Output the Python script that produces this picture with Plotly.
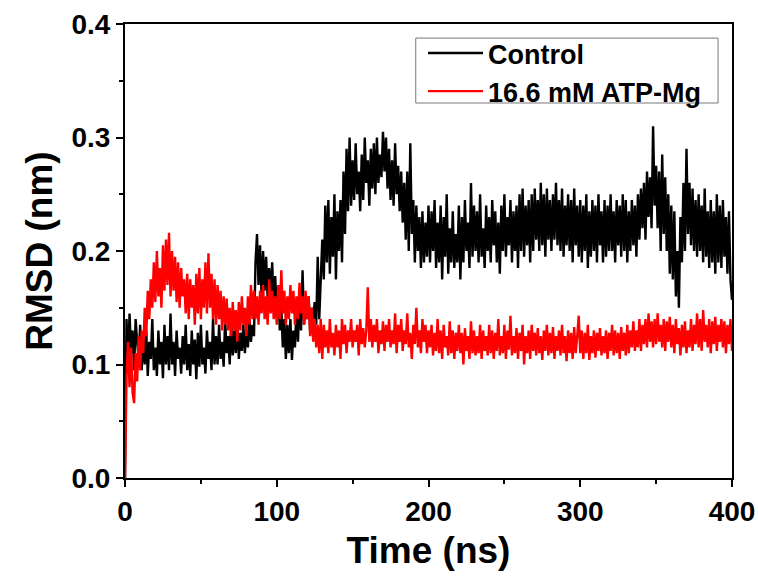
import plotly.graph_objects as go

time_ns = list(range(0, 401))

control = [
    0.0,
    0.14, 0.10, 0.145, 0.11, 0.13, 0.095, 0.14, 0.12, 0.105,
    0.135, 0.095, 0.125, 0.10, 0.13, 0.09, 0.12, 0.105, 0.14, 0.095,
    0.115, 0.09, 0.13, 0.10, 0.12, 0.088, 0.135, 0.10, 0.125, 0.095, 0.145, 0.10, 0.12, 0.09, 0.13, 0.105, 0.115, 0.092, 0.125, 0.10,
    0.135, 0.095, 0.118, 0.09, 0.13, 0.10, 0.122, 0.087, 0.128, 0.098, 0.135, 0.10, 0.115, 0.092, 0.13, 0.105, 0.12, 0.095, 0.14, 0.10,
    0.125, 0.10, 0.135, 0.105, 0.12, 0.098, 0.14, 0.11, 0.125, 0.10, 0.138, 0.108, 0.13, 0.11, 0.14, 0.105, 0.128, 0.112, 0.135, 0.11,
    0.13, 0.115, 0.14, 0.12, 0.135, 0.125, 0.19, 0.215, 0.17, 0.205, 0.16, 0.2, 0.165, 0.195, 0.158, 0.185, 0.16, 0.19, 0.15, 0.178,
    0.145, 0.17, 0.13, 0.15, 0.115, 0.14, 0.105, 0.135, 0.11, 0.14, 0.104, 0.13, 0.115, 0.15, 0.12, 0.16, 0.13, 0.183, 0.135, 0.155,
    0.14, 0.16, 0.13, 0.15, 0.14, 0.155, 0.135, 0.195, 0.14, 0.17, 0.21, 0.175, 0.24, 0.19, 0.245, 0.18, 0.23, 0.195, 0.25, 0.175,
    0.235, 0.2, 0.245, 0.19, 0.27, 0.215, 0.29, 0.235, 0.3, 0.24, 0.28, 0.245, 0.295, 0.25, 0.27, 0.235, 0.285, 0.245, 0.3, 0.26,
    0.28, 0.24, 0.29, 0.255, 0.295, 0.25, 0.3, 0.26, 0.285, 0.265, 0.305, 0.27, 0.3, 0.255, 0.29, 0.245, 0.28, 0.24, 0.295, 0.25,
    0.275, 0.235, 0.27, 0.225, 0.26, 0.21, 0.27, 0.2, 0.295, 0.215, 0.245, 0.19, 0.24, 0.2, 0.23, 0.185, 0.235, 0.19, 0.225, 0.195,
    0.24, 0.19, 0.235, 0.2, 0.245, 0.185, 0.225, 0.19, 0.24, 0.175, 0.23, 0.195, 0.25, 0.18, 0.22, 0.19, 0.235, 0.185, 0.215, 0.19,
    0.24, 0.175, 0.23, 0.19, 0.245, 0.2, 0.225, 0.185, 0.26, 0.195, 0.24, 0.2, 0.235, 0.19, 0.25, 0.195, 0.22, 0.185, 0.24, 0.2,
    0.23, 0.19, 0.245, 0.205, 0.235, 0.19, 0.225, 0.18, 0.24, 0.2, 0.25, 0.195, 0.23, 0.205, 0.245, 0.19, 0.235, 0.2, 0.24, 0.185,
    0.25, 0.2, 0.255, 0.195, 0.24, 0.205, 0.245, 0.19, 0.25, 0.2, 0.255, 0.21, 0.245, 0.2, 0.26, 0.205, 0.25, 0.195, 0.255, 0.21,
    0.245, 0.2, 0.25, 0.21, 0.26, 0.205, 0.245, 0.2, 0.255, 0.195, 0.24, 0.205, 0.25, 0.2, 0.245, 0.19, 0.255, 0.205, 0.24, 0.195,
    0.245, 0.19, 0.24, 0.2, 0.25, 0.185, 0.235, 0.195, 0.245, 0.2, 0.24, 0.19, 0.25, 0.205, 0.235, 0.19, 0.245, 0.195, 0.24, 0.2,
    0.25, 0.2, 0.235, 0.19, 0.245, 0.205, 0.24, 0.195, 0.25, 0.2, 0.245, 0.19, 0.235, 0.2, 0.245, 0.205, 0.24, 0.195, 0.25, 0.21,
    0.255, 0.22, 0.26, 0.21, 0.27, 0.23, 0.265, 0.22, 0.31, 0.24, 0.275, 0.22, 0.27, 0.2, 0.285, 0.215, 0.265, 0.2, 0.25, 0.18,
    0.24, 0.175, 0.235, 0.16, 0.2, 0.15, 0.23, 0.19, 0.26, 0.2, 0.29, 0.215, 0.26, 0.205, 0.255, 0.2, 0.245, 0.195, 0.25, 0.2,
    0.24, 0.19, 0.255, 0.195, 0.235, 0.185, 0.245, 0.19, 0.235, 0.18, 0.25, 0.19, 0.24, 0.185, 0.245, 0.195, 0.23, 0.18, 0.235, 0.175,
    0.157,
]

atp_mg = [
    0.0,
    0.09, 0.12, 0.08, 0.115, 0.075, 0.066, 0.11, 0.085, 0.125,
    0.095, 0.13, 0.11, 0.15, 0.125, 0.165, 0.14, 0.175, 0.15, 0.19,
    0.155, 0.2, 0.16, 0.185, 0.15, 0.205, 0.165, 0.21, 0.17, 0.216, 0.16, 0.2, 0.165, 0.195, 0.155, 0.19, 0.15, 0.185, 0.16, 0.175,
    0.145, 0.18, 0.14, 0.175, 0.15, 0.17, 0.135, 0.18, 0.145, 0.185, 0.14, 0.175, 0.15, 0.19, 0.145, 0.198, 0.15, 0.18, 0.14, 0.175,
    0.135, 0.17, 0.14, 0.165, 0.13, 0.16, 0.135, 0.158, 0.13, 0.15, 0.125, 0.155, 0.13, 0.148, 0.12, 0.155, 0.13, 0.16, 0.135, 0.15,
    0.125, 0.16, 0.135, 0.17, 0.14, 0.165, 0.14, 0.16, 0.135, 0.165, 0.145, 0.17, 0.14, 0.16, 0.135, 0.175, 0.145, 0.165, 0.14, 0.16,
    0.135, 0.17, 0.14, 0.183, 0.145, 0.165, 0.135, 0.16, 0.14, 0.17, 0.145, 0.165, 0.135, 0.16, 0.14, 0.172, 0.145, 0.16, 0.135, 0.165,
    0.14, 0.16, 0.125, 0.15, 0.12, 0.14, 0.115, 0.135, 0.11, 0.14, 0.105, 0.135, 0.115, 0.13, 0.11, 0.14, 0.115, 0.128, 0.108, 0.135,
    0.115, 0.13, 0.105, 0.14, 0.118, 0.135, 0.11, 0.13, 0.12, 0.14, 0.115, 0.13, 0.12, 0.135, 0.108, 0.14, 0.118, 0.132, 0.115, 0.13,
    0.168, 0.12, 0.14, 0.115, 0.135, 0.12, 0.14, 0.11, 0.13, 0.118, 0.138, 0.112, 0.135, 0.12, 0.14, 0.115, 0.13, 0.118, 0.145, 0.11,
    0.135, 0.12, 0.14, 0.112, 0.13, 0.118, 0.145, 0.115, 0.128, 0.105, 0.135, 0.118, 0.15, 0.115, 0.13, 0.11, 0.14, 0.12, 0.135, 0.11,
    0.13, 0.115, 0.135, 0.108, 0.128, 0.112, 0.14, 0.11, 0.13, 0.105, 0.135, 0.115, 0.125, 0.108, 0.138, 0.11, 0.13, 0.105, 0.128, 0.112,
    0.135, 0.11, 0.128, 0.1, 0.132, 0.112, 0.125, 0.105, 0.138, 0.11, 0.13, 0.108, 0.125, 0.11, 0.135, 0.105, 0.13, 0.112, 0.125, 0.108,
    0.135, 0.11, 0.13, 0.105, 0.128, 0.112, 0.14, 0.108, 0.125, 0.11, 0.135, 0.105, 0.13, 0.113, 0.143, 0.108, 0.125, 0.11, 0.132, 0.105,
    0.128, 0.112, 0.135, 0.1, 0.125, 0.11, 0.13, 0.105, 0.135, 0.112, 0.128, 0.108, 0.132, 0.11, 0.125, 0.104, 0.13, 0.112, 0.135, 0.108,
    0.128, 0.11, 0.133, 0.105, 0.125, 0.112, 0.13, 0.108, 0.135, 0.11, 0.125, 0.103, 0.13, 0.11, 0.128, 0.105, 0.133, 0.11, 0.125, 0.143,
    0.11, 0.13, 0.105, 0.128, 0.11, 0.135, 0.104, 0.125, 0.11, 0.13, 0.106, 0.128, 0.112, 0.132, 0.108, 0.125, 0.11, 0.13, 0.105, 0.128,
    0.112, 0.135, 0.108, 0.13, 0.11, 0.128, 0.105, 0.133, 0.112, 0.128, 0.108, 0.135, 0.11, 0.13, 0.115, 0.138, 0.112, 0.13, 0.115, 0.14,
    0.112, 0.135, 0.118, 0.14, 0.115, 0.145, 0.12, 0.138, 0.115, 0.14, 0.118, 0.145, 0.12, 0.135, 0.115, 0.14, 0.112, 0.138, 0.12, 0.142,
    0.115, 0.135, 0.11, 0.14, 0.118, 0.132, 0.108, 0.135, 0.115, 0.138, 0.11, 0.13, 0.115, 0.14, 0.112, 0.135, 0.118, 0.145, 0.115, 0.14,
    0.112, 0.148, 0.12, 0.135, 0.115, 0.14, 0.11, 0.138, 0.118, 0.142, 0.112, 0.135, 0.12, 0.14, 0.115, 0.138, 0.11, 0.135, 0.118, 0.14,
    0.112,
]

series_names = ["Control", "16.6 mM ATP-Mg"]
series_colors = ["#000000", "#ff0000"]

FONT = "Liberation Sans, Arial, sans-serif"

fig = go.Figure()
for name, vals, col in zip(series_names, [control, atp_mg], series_colors):
    fig.add_trace(go.Scatter(x=time_ns, y=vals, mode="lines", name=name,
                             line=dict(color=col, width=2.4)))

axis_common = dict(
    showline=True, linecolor="black", linewidth=2, mirror=True,
    ticks="outside", ticklen=7, tickwidth=2, tickcolor="black",
    showgrid=False, zeroline=False, automargin=False,
    tickfont=dict(family=FONT, size=28, color="black", weight="bold"),
)

fig.update_xaxes(range=[0, 400], dtick=100, tick0=0,
                 minor=dict(ticks="outside", ticklen=4, tickwidth=2, dtick=50, tickcolor="black"),
                 title=dict(text="Time (ns)", standoff=12,
                            font=dict(family=FONT, size=37, color="black", weight="bold")),
                 **axis_common)
fig.update_yaxes(range=[0, 0.4], dtick=0.1, tick0=0, tickformat=".1f",
                 minor=dict(ticks="outside", ticklen=4, tickwidth=2, dtick=0.05, tickcolor="black"),
                 title=dict(text="RMSD (nm)", standoff=8,
                            font=dict(family=FONT, size=37, color="black", weight="bold")),
                 **axis_common)

fig.update_layout(
    width=758, height=577,
    margin=dict(l=125, r=26, t=24, b=99, autoexpand=False),
    plot_bgcolor="white", paper_bgcolor="white",
    showlegend=True,
    legend=dict(x=0.491, y=0.989, xanchor="left", yanchor="top",
                borderwidth=0, bgcolor="rgba(0,0,0,0)",
                font=dict(family=FONT, size=27, color="black", weight="bold"),
                tracegroupgap=0, itemwidth=55),
    shapes=[dict(type="rect", xref="paper", yref="paper",
                 x0=0.479, x1=0.977, y0=0.826, y1=0.969,
                 line=dict(color="#777777", width=1), fillcolor="rgba(0,0,0,0)",
                 layer="above")],
)

fig.write_html("out.html")
